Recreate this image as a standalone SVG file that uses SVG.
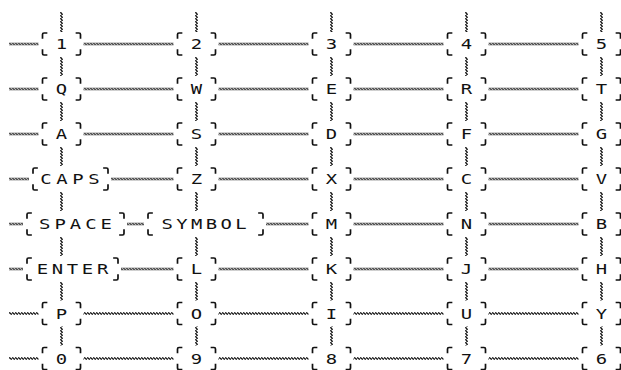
<svg xmlns="http://www.w3.org/2000/svg" xmlns:xlink="http://www.w3.org/1999/xlink" width="621" height="370" viewBox="0 0 621 370">
<style>
.bg{fill:#fff}
.br{fill:none;stroke:#111;stroke-width:1.7;stroke-linecap:square}
.lbl{font-family:"DejaVu Sans Mono","Liberation Mono",monospace;font-size:14px;fill:#111;text-anchor:middle}
.zz{fill:none;stroke:#111;stroke-width:1.1}
.h{fill:none;stroke:url(#wh);stroke-width:3}
.h2{fill:none;stroke:url(#wh2);stroke-width:3}
.v{fill:none;stroke:url(#wv);stroke-width:3}
</style>
<defs>
<pattern id="wh" patternUnits="userSpaceOnUse" x="0" y="0.5" width="3" height="3"><path class="zz" d="M0 1.5 L0.75 0.6 L2.25 2.4 L3 1.5"/></pattern>
<pattern id="wh2" patternUnits="userSpaceOnUse" x="0" y="0" width="3" height="3"><path class="zz" d="M0 1.5 L0.75 0.6 L2.25 2.4 L3 1.5"/></pattern>
<pattern id="wv" patternUnits="userSpaceOnUse" x="0" y="0" width="3" height="3"><path class="zz" d="M1.5 0 L0.6 0.75 L2.4 2.25 L1.5 3"/></pattern>
<path id="br" d="M-19 -6 V-9.5 Q-19 -11 -17.5 -11 H-15 M15 -11 H17.5 Q19 -11 19 -9.5 V-6 M-19 6 V9.5 Q-19 11 -17.5 11 H-15 M15 11 H17.5 Q19 11 19 9.5 V6"/>
</defs>
<rect class="bg" width="621" height="370"/>
<g id="connectors">
<path class="h" d="M9 44 H38.5"/><path class="h" d="M83.5 44 H173.5"/><path class="h" d="M218.5 44 H308.5"/><path class="h" d="M353.5 44 H443.5"/><path class="h" d="M488.5 44 H578.5"/>
<path class="h" d="M9 89 H38.5"/><path class="h" d="M83.5 89 H173.5"/><path class="h" d="M218.5 89 H308.5"/><path class="h" d="M353.5 89 H443.5"/><path class="h" d="M488.5 89 H578.5"/>
<path class="h" d="M9 134 H38.5"/><path class="h" d="M83.5 134 H173.5"/><path class="h" d="M218.5 134 H308.5"/><path class="h" d="M353.5 134 H443.5"/><path class="h" d="M488.5 134 H578.5"/>
<path class="h" d="M9 179 H29"/><path class="h" d="M111 179 H173.5"/><path class="h" d="M218.5 179 H308.5"/><path class="h" d="M353.5 179 H443.5"/><path class="h" d="M488.5 179 H578.5"/>
<path class="h" d="M9 224 H23"/><path class="h" d="M127 224 H144"/><path class="h" d="M266 224 H308.5"/><path class="h" d="M353.5 224 H443.5"/><path class="h" d="M488.5 224 H578.5"/>
<path class="h" d="M9 269 H23"/><path class="h" d="M121 269 H173.5"/><path class="h" d="M218.5 269 H308.5"/><path class="h" d="M353.5 269 H443.5"/><path class="h" d="M488.5 269 H578.5"/>
<path class="h2" d="M9 313.5 H38.5"/><path class="h2" d="M83.5 313.5 H173.5"/><path class="h2" d="M218.5 313.5 H308.5"/><path class="h2" d="M353.5 313.5 H443.5"/><path class="h2" d="M488.5 313.5 H578.5"/>
<path class="h2" d="M9 358.5 H38.5"/><path class="h2" d="M83.5 358.5 H173.5"/><path class="h2" d="M218.5 358.5 H308.5"/><path class="h2" d="M353.5 358.5 H443.5"/><path class="h2" d="M488.5 358.5 H578.5"/>
<path class="v" d="M61.5 12 V32"/><path class="v" d="M61.5 57 V76"/><path class="v" d="M61.5 102 V121"/><path class="v" d="M61.5 147 V166"/><path class="v" d="M61.5 192 V211"/><path class="v" d="M61.5 237 V256"/><path class="v" d="M61.5 282 V300.5"/><path class="v" d="M61.5 326.5 V345.5"/>
<path class="v" d="M196.5 12 V32"/><path class="v" d="M196.5 57 V76"/><path class="v" d="M196.5 102 V121"/><path class="v" d="M196.5 147 V166"/><path class="v" d="M196.5 192 V211"/><path class="v" d="M196.5 237 V256"/><path class="v" d="M196.5 282 V300.5"/><path class="v" d="M196.5 326.5 V345.5"/>
<path class="v" d="M331.5 12 V32"/><path class="v" d="M331.5 57 V76"/><path class="v" d="M331.5 102 V121"/><path class="v" d="M331.5 147 V166"/><path class="v" d="M331.5 192 V211"/><path class="v" d="M331.5 237 V256"/><path class="v" d="M331.5 282 V300.5"/><path class="v" d="M331.5 326.5 V345.5"/>
<path class="v" d="M466.5 12 V32"/><path class="v" d="M466.5 57 V76"/><path class="v" d="M466.5 102 V121"/><path class="v" d="M466.5 147 V166"/><path class="v" d="M466.5 192 V211"/><path class="v" d="M466.5 237 V256"/><path class="v" d="M466.5 282 V300.5"/><path class="v" d="M466.5 326.5 V345.5"/>
<path class="v" d="M601.5 12 V32"/><path class="v" d="M601.5 57 V76"/><path class="v" d="M601.5 102 V121"/><path class="v" d="M601.5 147 V166"/><path class="v" d="M601.5 192 V211"/><path class="v" d="M601.5 237 V256"/><path class="v" d="M601.5 282 V300.5"/><path class="v" d="M601.5 326.5 V345.5"/>
</g>
<g id="nodes">
<g id="n-1"><use class="br" href="#br" xlink:href="#br" x="61.5" y="44"/><text class="lbl" transform="translate(61.5 49) scale(1.35 1)">1</text></g>
<g id="n-2"><use class="br" href="#br" xlink:href="#br" x="196.5" y="44"/><text class="lbl" transform="translate(196.5 49) scale(1.35 1)">2</text></g>
<g id="n-3"><use class="br" href="#br" xlink:href="#br" x="331.5" y="44"/><text class="lbl" transform="translate(331.5 49) scale(1.35 1)">3</text></g>
<g id="n-4"><use class="br" href="#br" xlink:href="#br" x="466.5" y="44"/><text class="lbl" transform="translate(466.5 49) scale(1.35 1)">4</text></g>
<g id="n-5"><use class="br" href="#br" xlink:href="#br" x="601.5" y="44"/><text class="lbl" transform="translate(601.5 49) scale(1.35 1)">5</text></g>
<g id="n-q"><use class="br" href="#br" xlink:href="#br" x="61.5" y="89"/><text class="lbl" transform="translate(61.5 94) scale(1.35 1)">Q</text></g>
<g id="n-w"><use class="br" href="#br" xlink:href="#br" x="196.5" y="89"/><text class="lbl" transform="translate(196.5 94) scale(1.35 1)">W</text></g>
<g id="n-e"><use class="br" href="#br" xlink:href="#br" x="331.5" y="89"/><text class="lbl" transform="translate(331.5 94) scale(1.35 1)">E</text></g>
<g id="n-r"><use class="br" href="#br" xlink:href="#br" x="466.5" y="89"/><text class="lbl" transform="translate(466.5 94) scale(1.35 1)">R</text></g>
<g id="n-t"><use class="br" href="#br" xlink:href="#br" x="601.5" y="89"/><text class="lbl" transform="translate(601.5 94) scale(1.35 1)">T</text></g>
<g id="n-a"><use class="br" href="#br" xlink:href="#br" x="61.5" y="134"/><text class="lbl" transform="translate(61.5 139) scale(1.35 1)">A</text></g>
<g id="n-s"><use class="br" href="#br" xlink:href="#br" x="196.5" y="134"/><text class="lbl" transform="translate(196.5 139) scale(1.35 1)">S</text></g>
<g id="n-d"><use class="br" href="#br" xlink:href="#br" x="331.5" y="134"/><text class="lbl" transform="translate(331.5 139) scale(1.35 1)">D</text></g>
<g id="n-f"><use class="br" href="#br" xlink:href="#br" x="466.5" y="134"/><text class="lbl" transform="translate(466.5 139) scale(1.35 1)">F</text></g>
<g id="n-g"><use class="br" href="#br" xlink:href="#br" x="601.5" y="134"/><text class="lbl" transform="translate(601.5 139) scale(1.35 1)">G</text></g>
<g id="n-caps"><path class="br" d="M33 173 V169.5 Q33 168 34.5 168 H37 M104 168 H106.5 Q108 168 108 169.5 V173 M33 185 V188.5 Q33 190 34.5 190 H37 M104 190 H106.5 Q108 190 108 188.5 V185"/><text class="lbl" transform="translate(70 184) scale(1.35 1)" textLength="44" lengthAdjust="spacing">CAPS</text></g>
<g id="n-z"><use class="br" href="#br" xlink:href="#br" x="196.5" y="179"/><text class="lbl" transform="translate(196.5 184) scale(1.35 1)">Z</text></g>
<g id="n-x"><use class="br" href="#br" xlink:href="#br" x="331.5" y="179"/><text class="lbl" transform="translate(331.5 184) scale(1.35 1)">X</text></g>
<g id="n-c"><use class="br" href="#br" xlink:href="#br" x="466.5" y="179"/><text class="lbl" transform="translate(466.5 184) scale(1.35 1)">C</text></g>
<g id="n-v"><use class="br" href="#br" xlink:href="#br" x="601.5" y="179"/><text class="lbl" transform="translate(601.5 184) scale(1.35 1)">V</text></g>
<g id="n-space"><path class="br" d="M27 218 V214.5 Q27 213 28.5 213 H31 M120 213 H122.5 Q124 213 124 214.5 V218 M27 230 V233.5 Q27 235 28.5 235 H31 M120 235 H122.5 Q124 235 124 233.5 V230"/><text class="lbl" transform="translate(75.5 229) scale(1.35 1)" textLength="54" lengthAdjust="spacing">SPACE</text></g>
<g id="n-symbol"><path class="br" d="M148 218 V214.5 Q148 213 149.5 213 H152 M259 213 H261.5 Q263 213 263 214.5 V218 M148 230 V233.5 Q148 235 149.5 235 H152 M259 235 H261.5 Q263 235 263 233.5 V230"/><text class="lbl" transform="translate(204 229) scale(1.35 1)" textLength="63" lengthAdjust="spacing">SYMBOL</text></g>
<g id="n-m"><use class="br" href="#br" xlink:href="#br" x="331.5" y="224"/><text class="lbl" transform="translate(331.5 229) scale(1.35 1)">M</text></g>
<g id="n-n"><use class="br" href="#br" xlink:href="#br" x="466.5" y="224"/><text class="lbl" transform="translate(466.5 229) scale(1.35 1)">N</text></g>
<g id="n-b"><use class="br" href="#br" xlink:href="#br" x="601.5" y="224"/><text class="lbl" transform="translate(601.5 229) scale(1.35 1)">B</text></g>
<g id="n-enter"><path class="br" d="M27 263 V259.5 Q27 258 28.5 258 H31 M114 258 H116.5 Q118 258 118 259.5 V263 M27 275 V278.5 Q27 280 28.5 280 H31 M114 280 H116.5 Q118 280 118 278.5 V275"/><text class="lbl" transform="translate(72.5 274) scale(1.35 1)" textLength="53" lengthAdjust="spacing">ENTER</text></g>
<g id="n-l"><use class="br" href="#br" xlink:href="#br" x="196.5" y="269"/><text class="lbl" transform="translate(196.5 274) scale(1.35 1)">L</text></g>
<g id="n-k"><use class="br" href="#br" xlink:href="#br" x="331.5" y="269"/><text class="lbl" transform="translate(331.5 274) scale(1.35 1)">K</text></g>
<g id="n-j"><use class="br" href="#br" xlink:href="#br" x="466.5" y="269"/><text class="lbl" transform="translate(466.5 274) scale(1.35 1)">J</text></g>
<g id="n-h"><use class="br" href="#br" xlink:href="#br" x="601.5" y="269"/><text class="lbl" transform="translate(601.5 274) scale(1.35 1)">H</text></g>
<g id="n-p"><use class="br" href="#br" xlink:href="#br" x="61.5" y="313.5"/><text class="lbl" transform="translate(61.5 318.5) scale(1.35 1)">P</text></g>
<g id="n-o"><use class="br" href="#br" xlink:href="#br" x="196.5" y="313.5"/><text class="lbl" transform="translate(196.5 318.5) scale(1.35 1)">O</text></g>
<g id="n-i"><use class="br" href="#br" xlink:href="#br" x="331.5" y="313.5"/><text class="lbl" transform="translate(331.5 318.5) scale(1.35 1)">I</text></g>
<g id="n-u"><use class="br" href="#br" xlink:href="#br" x="466.5" y="313.5"/><text class="lbl" transform="translate(466.5 318.5) scale(1.35 1)">U</text></g>
<g id="n-y"><use class="br" href="#br" xlink:href="#br" x="601.5" y="313.5"/><text class="lbl" transform="translate(601.5 318.5) scale(1.35 1)">Y</text></g>
<g id="n-0"><use class="br" href="#br" xlink:href="#br" x="61.5" y="358.5"/><text class="lbl" transform="translate(61.5 363.5) scale(1.35 1)">0</text></g>
<g id="n-9"><use class="br" href="#br" xlink:href="#br" x="196.5" y="358.5"/><text class="lbl" transform="translate(196.5 363.5) scale(1.35 1)">9</text></g>
<g id="n-8"><use class="br" href="#br" xlink:href="#br" x="331.5" y="358.5"/><text class="lbl" transform="translate(331.5 363.5) scale(1.35 1)">8</text></g>
<g id="n-7"><use class="br" href="#br" xlink:href="#br" x="466.5" y="358.5"/><text class="lbl" transform="translate(466.5 363.5) scale(1.35 1)">7</text></g>
<g id="n-6"><use class="br" href="#br" xlink:href="#br" x="601.5" y="358.5"/><text class="lbl" transform="translate(601.5 363.5) scale(1.35 1)">6</text></g>
</g>
</svg>
